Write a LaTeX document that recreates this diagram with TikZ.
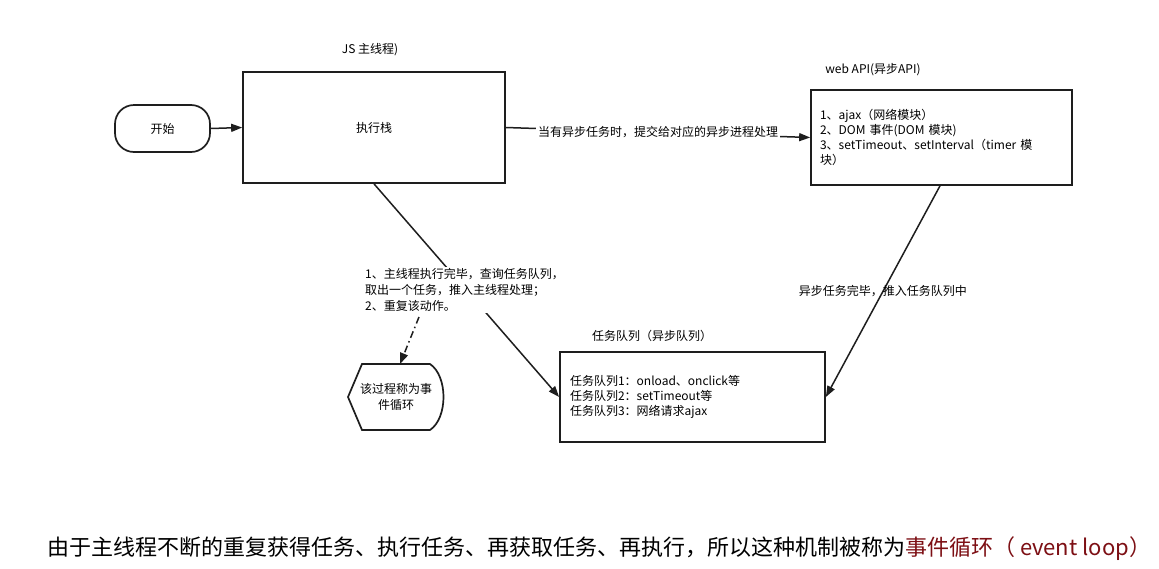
\documentclass[tikz,border=0pt]{standalone}
\usepackage{fontspec}
\setmainfont{Noto Sans CJK SC}
\usetikzlibrary{arrows.meta}
\definecolor{loopred}{RGB}{125,15,20}
\definecolor{linegray}{RGB}{30,30,30}
\tikzset{
  box/.style={draw=linegray, line width=1.7pt, inner sep=0pt, font=\fontsize{12}{15}\selectfont},
  lbl/.style={inner sep=0pt, font=\fontsize{12}{15}\selectfont},
  conn/.style={draw=linegray, line width=1.5pt, -{Triangle[length=11pt,width=8pt]}},
  dashconn/.style={conn, dash pattern=on 7pt off 3.5pt on 1.5pt off 3.5pt}
}
\begin{document}
\begin{tikzpicture}[x=1pt,y=-1pt]
\useasboundingbox (0,0) rectangle (1159,568);
\fill[white] (0,0) rectangle (1159,568);

% nodes
\node[box, rounded corners=19pt, minimum width=95pt, minimum height=47pt] (start) at (162.5,128.5) {开始};
\node[box, minimum width=262pt, minimum height=111pt] (exec) at (374,127.5) {执行栈};
\node[lbl] (jstitle) at (370,50) {JS 主线程)};
\node[box, align=left, text width=243pt, inner xsep=9pt, minimum height=95pt] (api) at (941.5,137.5)
  {1、ajax（网络模块）\\2、DOM 事件(DOM 模块)\\3、setTimeout、setInterval（timer 模\\块）};
\node[lbl] (apititle) at (873,70) {web API(异步API)};
\node[box, align=left, text width=245pt, inner xsep=10pt, minimum height=90pt] (queue) at (692.5,397)
  {任务队列1：onload、onclick等\\任务队列2：setTimeout等\\任务队列3：网络请求ajax};
\node[lbl] (queuetitle) at (652,336) {任务队列（异步队列）};

% event loop shape
\draw[line width=1.7pt, draw=linegray] (348,397) -- (362,364) -- (430,364)
  .. controls (448,376) and (448,418) .. (430,430) -- (362,430) -- cycle;
\node[lbl, align=center, font=\fontsize{12}{16}\selectfont] (loop) at (396,397) {该过程称为事\\件循环};
\coordinate (looptop) at (400,364);

% connectors
\draw[conn] (start.east) -- (exec.west);
\draw[conn] (exec.east) -- node[lbl, fill=white, inner xsep=2pt, inner ysep=1pt] (submit) {当有异步任务时，提交给对应的异步进程处理} (api.west);
\draw[conn] (api.south -| 940,0) -- node[lbl] (finish) {异步任务完毕，推入任务队列中} (queue.east);
\draw[conn] (exec.south) -- (queue.west);
\node[lbl, anchor=west, align=left, fill=white, inner ysep=1pt, font=\fontsize{12}{16}\selectfont] (steps) at (365,290)
  {1、主线程执行完毕，查询任务队列，\\取出一个任务，推入主线程处理；\\2、重复该动作。};
\coordinate (dstart) at (419,317);
\draw[dashconn] (dstart) -- (looptop);

% bottom sentence
\node[anchor=base west, inner sep=0pt, font=\fontsize{22}{26}\selectfont] (summary) at (47,555)
  {由于主线程不断的重复获得任务、执行任务、再获取任务、再执行，所以这种机制被称为\textcolor{loopred}{事件循环（ event loop）}};
\end{tikzpicture}
\end{document}
